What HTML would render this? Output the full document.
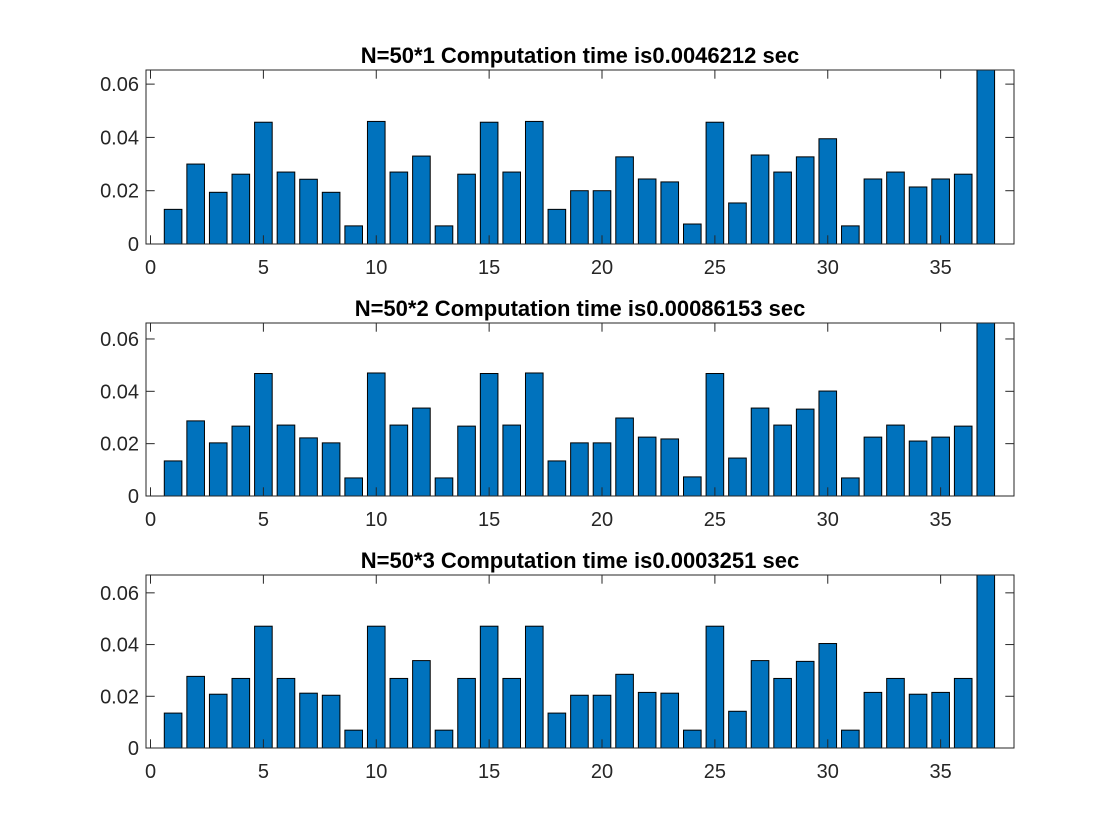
<!DOCTYPE html>
<html><head><meta charset="utf-8"><style>
html,body{margin:0;padding:0;background:#fff;}
svg{display:block;font-family:"Liberation Sans",Arial,sans-serif;}
</style></head><body>
<svg id="fig" width="1120" height="840"></svg>
<script>
const categories = Array.from({length:37},(_,i)=>i+1);
const series1 = [0.013,0.030,0.0194,0.0262,0.0457,0.027,0.0243,0.0194,0.0068,0.046,0.027,0.033,0.0068,0.0262,0.0457,0.027,0.046,0.013,0.020,0.020,0.0327,0.0244,0.0233,0.0075,0.0457,0.0154,0.0334,0.027,0.0327,0.0395,0.0068,0.0244,0.027,0.0214,0.0244,0.0262,0.075];
const series2 = [0.0134,0.0287,0.0203,0.0267,0.0468,0.0271,0.0222,0.0203,0.0069,0.047,0.0271,0.0336,0.0069,0.0267,0.0468,0.0271,0.047,0.0134,0.0203,0.0203,0.0298,0.0225,0.0218,0.0073,0.0468,0.0145,0.0336,0.0271,0.0332,0.0401,0.0069,0.0225,0.0271,0.021,0.0225,0.0267,0.075];
const series3 = [0.0135,0.0277,0.0208,0.0269,0.0471,0.0269,0.0212,0.0204,0.0069,0.0471,0.0269,0.0338,0.0069,0.0269,0.0471,0.0269,0.0471,0.0135,0.0204,0.0204,0.0285,0.0215,0.0212,0.0069,0.0471,0.0142,0.0338,0.0269,0.0335,0.0404,0.0069,0.0215,0.0269,0.0208,0.0215,0.0269,0.075];
const titles = ["N=50*1 Computation time is0.0046212 sec","N=50*2 Computation time is0.00086153 sec","N=50*3 Computation time is0.0003251 sec"];
const xTicks = [0,5,10,15,20,25,30,35];
const yTicks = [0,0.02,0.04,0.06];
const yTickLabels = ["0","0.02","0.04","0.06"];

const svg = document.getElementById('fig');
const NS = 'http://www.w3.org/2000/svg';
function mk(tag, attrs, parent){const e=document.createElementNS(NS,tag);for(const k in attrs)e.setAttribute(k,attrs[k]);(parent||svg).appendChild(e);return e;}
const L=146,R=1014,xmin=-0.2,xmax=38.25;
const tops=[70,323,575],bots=[244,496,748],ymaxs=[0.0653,0.0661,0.0669];
const allSeries=[series1,series2,series3];
for(let p=0;p<3;p++){
  const T=tops[p],B=bots[p],ymax=ymaxs[p];
  const xs=v=>L+(v-xmin)/(xmax-xmin)*(R-L);
  const ys=v=>B-v/ymax*(B-T);
  const g=mk('g',{});
  
  
  const cid='clip'+p;
  const cp=mk('clipPath',{id:cid},g);mk('rect',{x:L,y:T,width:R-L,height:B-T},cp);
  const bg=mk('g',{'clip-path':'url(#'+cid+')'},g);
  allSeries[p].forEach((v,i)=>{
    const c=categories[i];
    const r=mk('rect',{x:xs(c-0.39),y:ys(v),width:xs(c+0.39)-xs(c-0.39),height:B-ys(v),fill:'#0072bd',stroke:'#000','stroke-width':1},bg);
    
    
  });
  const box=mk('rect',{x:L,y:T,width:R-L,height:B-T,fill:'none',stroke:'#262626','stroke-width':1},g);
  
  
  xTicks.forEach(t=>{
    const x=xs(t);
    mk('line',{x1:x,x2:x,y1:B,y2:B-8.7,stroke:'#262626'},g);
    mk('line',{x1:x,x2:x,y1:T,y2:T+8.7,stroke:'#262626'},g);
    const tx=mk('text',{x:x,y:B+30,'text-anchor':'middle','font-size':20,fill:'#262626'},g);
    tx.textContent=t;
    
    
  });
  yTicks.forEach((t,i)=>{
    const y=ys(t);
    mk('line',{x1:L,x2:L+8.7,y1:y,y2:y,stroke:'#262626'},g);
    mk('line',{x1:R,x2:R-8.7,y1:y,y2:y,stroke:'#262626'},g);
    const tx=mk('text',{x:L-7,y:y+7,'text-anchor':'end','font-size':20,fill:'#262626'},g);
    tx.textContent=yTickLabels[i];
    
    
  });
  const tt=mk('text',{x:(L+R)/2,y:T-7,'text-anchor':'middle','font-size':22,'font-weight':'bold',fill:'#000'},g);
  tt.textContent=titles[p];
  
  
}
</script>
</body></html>
